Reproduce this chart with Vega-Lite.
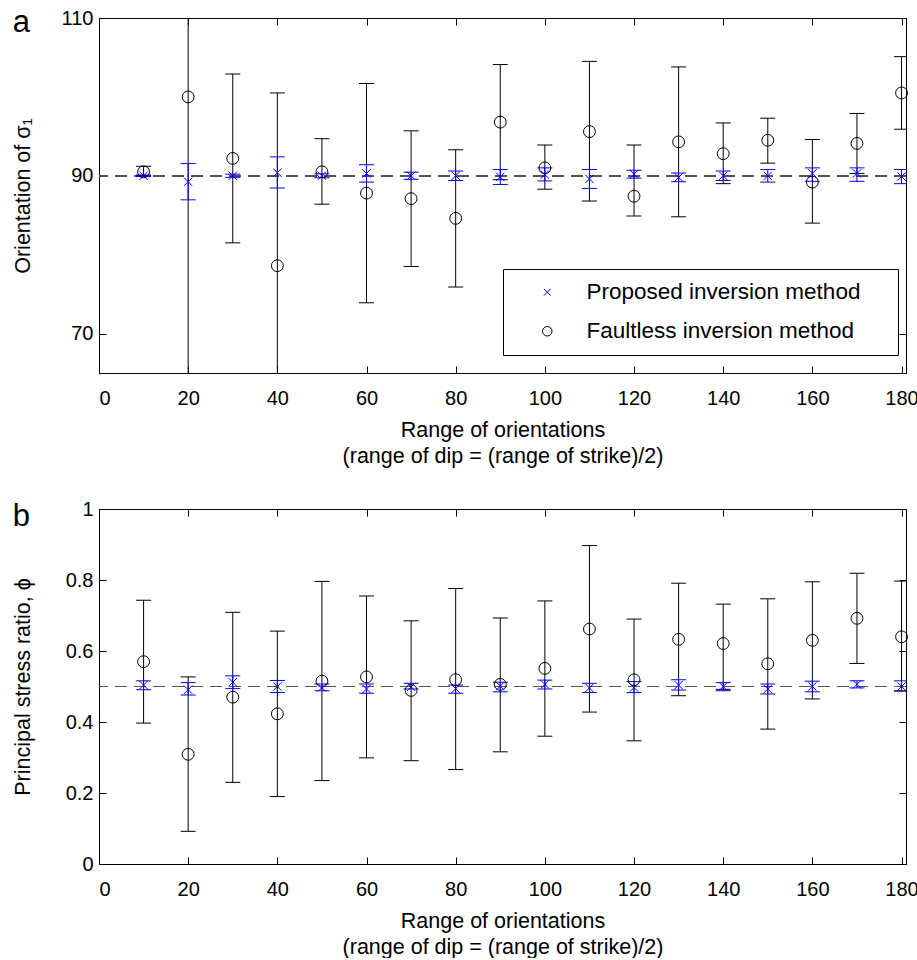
{
  "$schema": "https://vega.github.io/schema/vega-lite/v6.json",
  "padding": {"left": 11, "top": 6, "right": 5, "bottom": 0},
  "background": "white",
  "spacing": 31,
  "config": {
    "font": "Liberation Sans",
    "view": {"stroke": "#000", "strokeWidth": 1},
    "axis": {
      "labelFont": "Liberation Sans", "titleFont": "Liberation Sans",
      "labelFontSize": 20, "titleFontSize": 21.5, "titleFontWeight": "normal",
      "labelColor": "#000", "titleColor": "#000", "domainColor": "#000", "tickColor": "#000",
      "tickSize": -7, "grid": false
    },
    "title": {"font": "Liberation Sans", "color": "#000"}
  },
  "resolve": {
    "scale": {"color": "independent", "shape": "independent"},
    "legend": {"color": "independent", "shape": "independent"}
  },
  "datasets": {
    "orient": [
      {"x": 10, "method": "Faultless inversion method", "y": 90.5, "lo": 90.0, "hi": 91.2},
      {"x": 20, "method": "Faultless inversion method", "y": 100.0, "lo": 55, "hi": 145},
      {"x": 30, "method": "Faultless inversion method", "y": 92.2, "lo": 81.5, "hi": 102.9},
      {"x": 40, "method": "Faultless inversion method", "y": 78.6, "lo": 56.7, "hi": 100.5},
      {"x": 50, "method": "Faultless inversion method", "y": 90.5, "lo": 86.4, "hi": 94.7},
      {"x": 60, "method": "Faultless inversion method", "y": 87.8, "lo": 73.9, "hi": 101.7},
      {"x": 70, "method": "Faultless inversion method", "y": 87.1, "lo": 78.5, "hi": 95.7},
      {"x": 80, "method": "Faultless inversion method", "y": 84.6, "lo": 75.9, "hi": 93.3},
      {"x": 90, "method": "Faultless inversion method", "y": 96.8, "lo": 89.5, "hi": 104.1},
      {"x": 100, "method": "Faultless inversion method", "y": 91.0, "lo": 88.3, "hi": 93.9},
      {"x": 110, "method": "Faultless inversion method", "y": 95.6, "lo": 86.8, "hi": 104.5},
      {"x": 120, "method": "Faultless inversion method", "y": 87.4, "lo": 84.9, "hi": 93.9},
      {"x": 130, "method": "Faultless inversion method", "y": 94.3, "lo": 84.8, "hi": 103.8},
      {"x": 140, "method": "Faultless inversion method", "y": 92.8, "lo": 89.0, "hi": 96.7},
      {"x": 150, "method": "Faultless inversion method", "y": 94.5, "lo": 91.6, "hi": 97.3},
      {"x": 160, "method": "Faultless inversion method", "y": 89.2, "lo": 84.0, "hi": 94.6},
      {"x": 170, "method": "Faultless inversion method", "y": 94.1, "lo": 90.3, "hi": 97.9},
      {"x": 180, "method": "Faultless inversion method", "y": 100.5, "lo": 95.9, "hi": 105.1},
      {"x": 10, "method": "Proposed inversion method", "y": 90.0, "lo": 89.9, "hi": 90.1},
      {"x": 20, "method": "Proposed inversion method", "y": 89.25, "lo": 86.95, "hi": 91.55},
      {"x": 30, "method": "Proposed inversion method", "y": 90.0, "lo": 89.8, "hi": 90.2},
      {"x": 40, "method": "Proposed inversion method", "y": 90.4, "lo": 88.45, "hi": 92.4},
      {"x": 50, "method": "Proposed inversion method", "y": 90.0, "lo": 89.75, "hi": 90.25},
      {"x": 60, "method": "Proposed inversion method", "y": 90.3, "lo": 89.2, "hi": 91.4},
      {"x": 70, "method": "Proposed inversion method", "y": 90.0, "lo": 89.55, "hi": 90.45},
      {"x": 80, "method": "Proposed inversion method", "y": 90.0, "lo": 89.4, "hi": 90.6},
      {"x": 90, "method": "Proposed inversion method", "y": 89.85, "lo": 88.9, "hi": 90.8},
      {"x": 100, "method": "Proposed inversion method", "y": 90.15, "lo": 89.35, "hi": 91.0},
      {"x": 110, "method": "Proposed inversion method", "y": 89.6, "lo": 88.4, "hi": 90.8},
      {"x": 120, "method": "Proposed inversion method", "y": 90.2, "lo": 89.7, "hi": 90.7},
      {"x": 130, "method": "Proposed inversion method", "y": 89.8, "lo": 89.25, "hi": 90.35},
      {"x": 140, "method": "Proposed inversion method", "y": 90.0, "lo": 89.4, "hi": 90.6},
      {"x": 150, "method": "Proposed inversion method", "y": 90.0, "lo": 89.2, "hi": 90.8},
      {"x": 160, "method": "Proposed inversion method", "y": 90.3, "lo": 89.3, "hi": 91.0},
      {"x": 170, "method": "Proposed inversion method", "y": 90.3, "lo": 89.3, "hi": 91.0},
      {"x": 180, "method": "Proposed inversion method", "y": 89.9, "lo": 89.0, "hi": 90.8}
    ],
    "phi": [
      {"x": 10, "method": "Faultless inversion method", "y": 0.570, "lo": 0.397, "hi": 0.743},
      {"x": 20, "method": "Faultless inversion method", "y": 0.309, "lo": 0.092, "hi": 0.527},
      {"x": 30, "method": "Faultless inversion method", "y": 0.470, "lo": 0.230, "hi": 0.709},
      {"x": 40, "method": "Faultless inversion method", "y": 0.423, "lo": 0.190, "hi": 0.656},
      {"x": 50, "method": "Faultless inversion method", "y": 0.515, "lo": 0.235, "hi": 0.796},
      {"x": 60, "method": "Faultless inversion method", "y": 0.527, "lo": 0.299, "hi": 0.755},
      {"x": 70, "method": "Faultless inversion method", "y": 0.489, "lo": 0.291, "hi": 0.685},
      {"x": 80, "method": "Faultless inversion method", "y": 0.519, "lo": 0.266, "hi": 0.776},
      {"x": 90, "method": "Faultless inversion method", "y": 0.506, "lo": 0.316, "hi": 0.693},
      {"x": 100, "method": "Faultless inversion method", "y": 0.551, "lo": 0.360, "hi": 0.741},
      {"x": 110, "method": "Faultless inversion method", "y": 0.662, "lo": 0.428, "hi": 0.897},
      {"x": 120, "method": "Faultless inversion method", "y": 0.519, "lo": 0.347, "hi": 0.690},
      {"x": 130, "method": "Faultless inversion method", "y": 0.633, "lo": 0.474, "hi": 0.791},
      {"x": 140, "method": "Faultless inversion method", "y": 0.621, "lo": 0.492, "hi": 0.732},
      {"x": 150, "method": "Faultless inversion method", "y": 0.564, "lo": 0.380, "hi": 0.747},
      {"x": 160, "method": "Faultless inversion method", "y": 0.630, "lo": 0.465, "hi": 0.795},
      {"x": 170, "method": "Faultless inversion method", "y": 0.692, "lo": 0.565, "hi": 0.819},
      {"x": 180, "method": "Faultless inversion method", "y": 0.640, "lo": 0.487, "hi": 0.797},
      {"x": 10, "method": "Proposed inversion method", "y": 0.504, "lo": 0.491, "hi": 0.516},
      {"x": 20, "method": "Proposed inversion method", "y": 0.491, "lo": 0.476, "hi": 0.511},
      {"x": 30, "method": "Proposed inversion method", "y": 0.512, "lo": 0.494, "hi": 0.530},
      {"x": 40, "method": "Proposed inversion method", "y": 0.500, "lo": 0.483, "hi": 0.517},
      {"x": 50, "method": "Proposed inversion method", "y": 0.497, "lo": 0.488, "hi": 0.507},
      {"x": 60, "method": "Proposed inversion method", "y": 0.493, "lo": 0.481, "hi": 0.507},
      {"x": 70, "method": "Proposed inversion method", "y": 0.499, "lo": 0.493, "hi": 0.509},
      {"x": 80, "method": "Proposed inversion method", "y": 0.494, "lo": 0.481, "hi": 0.504},
      {"x": 90, "method": "Proposed inversion method", "y": 0.501, "lo": 0.485, "hi": 0.512},
      {"x": 100, "method": "Proposed inversion method", "y": 0.506, "lo": 0.493, "hi": 0.518},
      {"x": 110, "method": "Proposed inversion method", "y": 0.496, "lo": 0.483, "hi": 0.509},
      {"x": 120, "method": "Proposed inversion method", "y": 0.497, "lo": 0.483, "hi": 0.514},
      {"x": 130, "method": "Proposed inversion method", "y": 0.504, "lo": 0.490, "hi": 0.519},
      {"x": 140, "method": "Proposed inversion method", "y": 0.500, "lo": 0.488, "hi": 0.511},
      {"x": 150, "method": "Proposed inversion method", "y": 0.493, "lo": 0.479, "hi": 0.507},
      {"x": 160, "method": "Proposed inversion method", "y": 0.500, "lo": 0.485, "hi": 0.515},
      {"x": 170, "method": "Proposed inversion method", "y": 0.506, "lo": 0.496, "hi": 0.516},
      {"x": 180, "method": "Proposed inversion method", "y": 0.500, "lo": 0.488, "hi": 0.516}
    ]
  },
  "vconcat": [
    {
      "width": 807, "height": 355,
      "title": {"text": "a", "orient": "left", "anchor": "end", "angle": 0, "align": "left", "baseline": "top", "frame": "group", "offset": -18, "dy": -10, "fontSize": 31, "fontWeight": "normal"},
      "data": {"name": "orient"},
      "layer": [
        {"mark": {"type": "rule", "strokeDash": [12, 7], "color": "#555", "strokeWidth": 1},
         "encoding": {"y": {"datum": 90, "type": "quantitative", "axis": null}}},
        {"transform": [{"filter": "datum.method === 'Faultless inversion method'"}],
         "mark": {"type": "rule", "clip": true, "strokeWidth": 1, "color": "#000000"},
         "encoding": {
           "x": {"field": "x", "type": "quantitative", "scale": {"domain": [0, 181], "nice": false, "zero": false},
                 "axis": {"orient": "bottom", "values": [0, 20, 40, 60, 80, 100, 120, 140, 160, 180], "labelPadding": 22,
                          "title": ["Range of orientations", "(range of dip = (range of strike)/2)"], "titleY": 46, "titleLineHeight": 26}},
           "y": {"field": "lo", "type": "quantitative", "scale": {"domain": [65, 110], "nice": false, "zero": false},
                 "axis": {"orient": "left", "values": [70, 90, 110], "labelPadding": 13, "title": "Orientation of σ₁", "titleX": -65}},
           "y2": {"field": "hi"}
         }},
        {"transform": [{"filter": "datum.method === 'Faultless inversion method'"}, {"fold": ["lo", "hi"], "as": ["end", "v"]}],
         "mark": {"type": "point", "shape": "stroke", "size": 225, "filled": false, "strokeWidth": 1, "clip": true, "color": "#000000", "opacity": 1},
         "encoding": {
           "x": {"field": "x", "type": "quantitative", "axis": null},
           "y": {"field": "v", "type": "quantitative", "axis": null}
         }},
        {"transform": [{"filter": "datum.method === 'Proposed inversion method'"}],
         "mark": {"type": "rule", "clip": true, "strokeWidth": 1, "color": "#0000ff"},
         "encoding": {
           "x": {"field": "x", "type": "quantitative", "axis": null},
           "y": {"field": "lo", "type": "quantitative", "axis": null},
           "y2": {"field": "hi"}
         }},
        {"transform": [{"filter": "datum.method === 'Proposed inversion method'"}, {"fold": ["lo", "hi"], "as": ["end", "v"]}],
         "mark": {"type": "point", "shape": "stroke", "size": 225, "filled": false, "strokeWidth": 1, "clip": true, "color": "#0000ff", "opacity": 1},
         "encoding": {
           "x": {"field": "x", "type": "quantitative", "axis": null},
           "y": {"field": "v", "type": "quantitative", "axis": null}
         }},
        {"mark": {"type": "point", "filled": false, "size": 140, "strokeWidth": 1, "opacity": 1},
         "encoding": {
           "x": {"field": "x", "type": "quantitative", "axis": {"orient": "top", "labels": false, "title": null, "values": [0, 20, 40, 60, 80, 100, 120, 140, 160, 180]}},
           "y": {"field": "y", "type": "quantitative", "axis": {"orient": "right", "labels": false, "title": null, "values": [70, 90, 110]}},
           "shape": {"field": "method", "type": "nominal",
                     "scale": {"domain": ["Proposed inversion method", "Faultless inversion method"], "range": ["M-0.7,-0.7L0.7,0.7M0.7,-0.7L-0.7,0.7", "circle"]},
                     "legend": {"orient": "none", "legendX": 404, "legendY": 251, "title": null, "fillColor": "white", "strokeColor": "black", "padding": 12,
                                "labelFont": "Liberation Sans", "labelFontSize": 22.5, "labelColor": "black", "labelLimit": 700,
                                "symbolSize": 90, "symbolStrokeWidth": 1, "symbolOffset": 21, "labelOffset": 28, "rowPadding": 16,
                                "labelExpr": "datum.label + '\u00a0\u00a0\u00a0\u00a0\u200b'"}},
           "color": {"field": "method", "type": "nominal",
                     "scale": {"domain": ["Proposed inversion method", "Faultless inversion method"], "range": ["#0000ff", "#000000"]},
                     "legend": {"orient": "none", "legendX": 404, "legendY": 251, "title": null, "fillColor": "white", "strokeColor": "black", "padding": 12,
                                "labelFont": "Liberation Sans", "labelFontSize": 22.5, "labelColor": "black", "labelLimit": 700,
                                "symbolSize": 90, "symbolStrokeWidth": 1, "symbolOffset": 21, "labelOffset": 28, "rowPadding": 16,
                                "labelExpr": "datum.label + '\u00a0\u00a0\u00a0\u00a0\u200b'"}}
         }}
      ],
      "resolve": {"axis": {"x": "independent", "y": "independent"}}
    },
    {
      "width": 807, "height": 355,
      "title": {"text": "b", "orient": "left", "anchor": "end", "angle": 0, "align": "left", "baseline": "top", "frame": "group", "offset": -18, "dy": -7, "fontSize": 31, "fontWeight": "normal"},
      "data": {"name": "phi"},
      "layer": [
        {"mark": {"type": "rule", "strokeDash": [12, 7], "color": "#555", "strokeWidth": 1},
         "encoding": {"y": {"datum": 0.5, "type": "quantitative", "axis": null}}},
        {"transform": [{"filter": "datum.method === 'Faultless inversion method'"}],
         "mark": {"type": "rule", "clip": true, "strokeWidth": 1, "color": "#000000"},
         "encoding": {
           "x": {"field": "x", "type": "quantitative", "scale": {"domain": [0, 181], "nice": false, "zero": false},
                 "axis": {"orient": "bottom", "values": [0, 20, 40, 60, 80, 100, 120, 140, 160, 180], "labelPadding": 22,
                          "title": ["Range of orientations", "(range of dip = (range of strike)/2)"], "titleY": 46, "titleLineHeight": 26}},
           "y": {"field": "lo", "type": "quantitative", "scale": {"domain": [0, 1], "nice": false, "zero": false},
                 "axis": {"orient": "left", "values": [0, 0.2, 0.4, 0.6, 0.8, 1], "format": "~g", "labelPadding": 13, "title": "Principal stress ratio, ϕ", "titleX": -65}},
           "y2": {"field": "hi"}
         }},
        {"transform": [{"filter": "datum.method === 'Faultless inversion method'"}, {"fold": ["lo", "hi"], "as": ["end", "v"]}],
         "mark": {"type": "point", "shape": "stroke", "size": 225, "filled": false, "strokeWidth": 1, "clip": true, "color": "#000000", "opacity": 1},
         "encoding": {
           "x": {"field": "x", "type": "quantitative", "axis": null},
           "y": {"field": "v", "type": "quantitative", "axis": null}
         }},
        {"transform": [{"filter": "datum.method === 'Proposed inversion method'"}],
         "mark": {"type": "rule", "clip": true, "strokeWidth": 1, "color": "#0000ff"},
         "encoding": {
           "x": {"field": "x", "type": "quantitative", "axis": null},
           "y": {"field": "lo", "type": "quantitative", "axis": null},
           "y2": {"field": "hi"}
         }},
        {"transform": [{"filter": "datum.method === 'Proposed inversion method'"}, {"fold": ["lo", "hi"], "as": ["end", "v"]}],
         "mark": {"type": "point", "shape": "stroke", "size": 225, "filled": false, "strokeWidth": 1, "clip": true, "color": "#0000ff", "opacity": 1},
         "encoding": {
           "x": {"field": "x", "type": "quantitative", "axis": null},
           "y": {"field": "v", "type": "quantitative", "axis": null}
         }},
        {"transform": [{"filter": "datum.method === 'Faultless inversion method'"}],
         "mark": {"type": "point", "filled": false, "size": 140, "strokeWidth": 1, "shape": "circle", "color": "#000000", "opacity": 1},
         "encoding": {
           "x": {"field": "x", "type": "quantitative", "axis": {"orient": "top", "labels": false, "title": null, "values": [0, 20, 40, 60, 80, 100, 120, 140, 160, 180]}},
           "y": {"field": "y", "type": "quantitative", "axis": {"orient": "right", "labels": false, "title": null, "values": [0, 0.2, 0.4, 0.6, 0.8, 1]}}
         }},
        {"transform": [{"filter": "datum.method === 'Proposed inversion method'"}],
         "mark": {"type": "point", "filled": false, "size": 140, "strokeWidth": 1, "shape": "M-0.7,-0.7L0.7,0.7M0.7,-0.7L-0.7,0.7", "color": "#0000ff", "opacity": 1},
         "encoding": {
           "x": {"field": "x", "type": "quantitative", "axis": null},
           "y": {"field": "y", "type": "quantitative", "axis": null}
         }}
      ],
      "resolve": {"axis": {"x": "independent", "y": "independent"}}
    }
  ]
}
